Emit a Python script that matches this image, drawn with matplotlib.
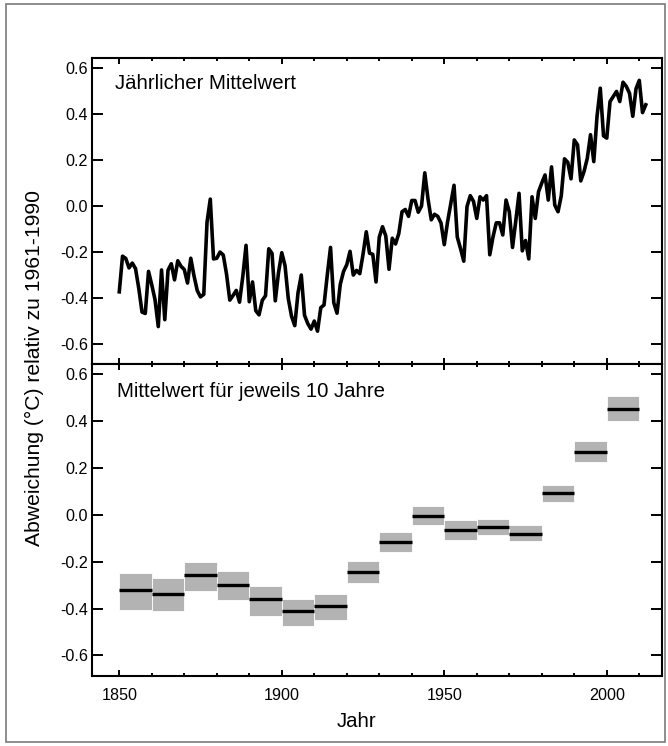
import matplotlib
matplotlib.use("Agg")
import matplotlib.pyplot as plt
from matplotlib.ticker import MultipleLocator, FixedLocator
from matplotlib.patches import Rectangle

plt.rcParams["font.family"] = ["Liberation Sans", "DejaVu Sans"]
plt.rcParams["axes.unicode_minus"] = False

# Annual global mean temperature anomaly (°C, relative to 1961-1990)
years = list(range(1850, 2013))
annual = [
    -0.373, -0.218, -0.228, -0.269, -0.248, -0.272, -0.358, -0.461, -0.467, -0.284,
    -0.343, -0.407, -0.524, -0.278, -0.494, -0.279, -0.251, -0.321, -0.238, -0.262,
    -0.276, -0.335, -0.227, -0.304, -0.368, -0.395, -0.384, -0.070, 0.030, -0.230,
    -0.227, -0.200, -0.213, -0.296, -0.409, -0.389, -0.367, -0.418, -0.307, -0.171,
    -0.416, -0.330, -0.455, -0.473, -0.410, -0.390, -0.186, -0.206, -0.412, -0.289,
    -0.203, -0.259, -0.402, -0.479, -0.520, -0.377, -0.300, -0.475, -0.511, -0.535,
    -0.500, -0.544, -0.442, -0.430, -0.300, -0.180, -0.420, -0.466, -0.340, -0.285,
    -0.255, -0.197, -0.300, -0.280, -0.294, -0.210, -0.112, -0.205, -0.210, -0.330,
    -0.135, -0.090, -0.130, -0.275, -0.140, -0.165, -0.120, -0.025, -0.015, -0.045,
    0.024, 0.024, -0.027, 0.000, 0.144, 0.030, -0.060, -0.036, -0.045, -0.074,
    -0.168, -0.070, 0.010, 0.090, -0.135, -0.185, -0.240, -0.002, 0.045, 0.020,
    -0.054, 0.040, 0.026, 0.045, -0.212, -0.134, -0.073, -0.073, -0.126, 0.026,
    -0.025, -0.180, -0.065, 0.055, -0.195, -0.150, -0.230, 0.040, -0.054, 0.062,
    0.100, 0.135, 0.026, 0.170, 0.004, -0.025, 0.045, 0.205, 0.190, 0.118,
    0.287, 0.266, 0.109, 0.150, 0.207, 0.310, 0.193, 0.390, 0.512, 0.305,
    0.295, 0.454, 0.476, 0.498, 0.454, 0.538, 0.520, 0.490, 0.390, 0.510,
    0.546, 0.406, 0.440,
]

# Decadal means with uncertainty range
decade_start = [1850, 1860, 1870, 1880, 1890, 1900, 1910, 1920,
                1930, 1940, 1950, 1960, 1970, 1980, 1990, 2000]
decade_mean = [-0.322, -0.338, -0.257, -0.298, -0.361, -0.412, -0.389, -0.244,
               -0.116, -0.004, -0.063, -0.054, -0.080, 0.094, 0.268, 0.452]
decade_low = [-0.405, -0.412, -0.324, -0.364, -0.430, -0.476, -0.447, -0.293,
              -0.160, -0.044, -0.107, -0.087, -0.112, 0.054, 0.224, 0.402]
decade_high = [-0.249, -0.271, -0.202, -0.241, -0.304, -0.358, -0.338, -0.199,
               -0.075, 0.037, -0.021, -0.018, -0.045, 0.129, 0.315, 0.506]
decade_len = 10

yticks = [-0.6, -0.4, -0.2, 0.0, 0.2, 0.4, 0.6]
ytick_labels = ["-0.6", "-0.4", "-0.2", "0.0", "0.2", "0.4", "0.6"]
xticks_major = [1850, 1900, 1950, 2000]

W, H = 668, 746
fig = plt.figure(figsize=(W / 100, H / 100), dpi=100)

# outer frame
fig.patches.append(Rectangle((6 / W, 4 / H), 659 / W, 738 / H,
                             transform=fig.transFigure, fill=False,
                             edgecolor="#7a7a7a", linewidth=1.2))

left, width = 92.3 / W, (661.7 - 92.3) / W
ax1 = fig.add_axes([left, 1 - 364.3 / H, width, (364.3 - 58.3) / H])
ax2 = fig.add_axes([left, 1 - 676 / H, width, (676 - 364.3) / H])

XLIM = (1841.7, 2016.9)
YLIM = (-0.688, 0.642)

for ax in (ax1, ax2):
    ax.set_xlim(*XLIM)
    ax.set_ylim(*YLIM)
    for s in ax.spines.values():
        s.set_linewidth(1.5)
    ax.xaxis.set_major_locator(FixedLocator(xticks_major))
    ax.xaxis.set_minor_locator(MultipleLocator(10))
    ax.set_yticks(yticks)
    ax.set_yticklabels(ytick_labels)
    ax.tick_params(axis="both", which="both", direction="in",
                   top=True, right=True, width=1.4, labelsize=11.6)
    ax.tick_params(axis="x", which="major", length=4.5, pad=9)
    ax.tick_params(axis="x", which="minor", length=2.3)
    ax.tick_params(axis="y", which="major", length=7.8, pad=3)
    ax.tick_params(axis="y", which="minor", length=0)

ax1.tick_params(axis="x", labelbottom=False)

# annual series
ax1.plot(years, annual, color="black", linewidth=2.6, solid_joinstyle="round")
ax1.text(0.04, 0.918, "Jährlicher Mittelwert", transform=ax1.transAxes,
         fontsize=14.7, ha="left", va="center")

# decadal means
for x0, m, lo, hi in zip(decade_start, decade_mean, decade_low, decade_high):
    ax2.add_patch(Rectangle((x0, lo), decade_len, hi - lo,
                            facecolor="#b3b3b3", edgecolor="white", linewidth=0.6))
    ax2.plot([x0, x0 + decade_len], [m, m], color="black", linewidth=2.4,
             solid_capstyle="butt")
ax2.text(0.044, 0.912, "Mittelwert für jeweils 10 Jahre", transform=ax2.transAxes,
         fontsize=14.7, ha="left", va="center")

ax2.set_xlabel("Jahr", fontsize=14.7)
ax2.xaxis.set_label_coords((357 - 92.3) / (661.7 - 92.3), -0.115)

fig.text(34 / W, 1 - 368 / H, "Abweichung (°C) relativ zu 1961-1990",
         rotation=90, ha="center", va="center", fontsize=15.2)

fig.savefig("out.png", dpi=100)
